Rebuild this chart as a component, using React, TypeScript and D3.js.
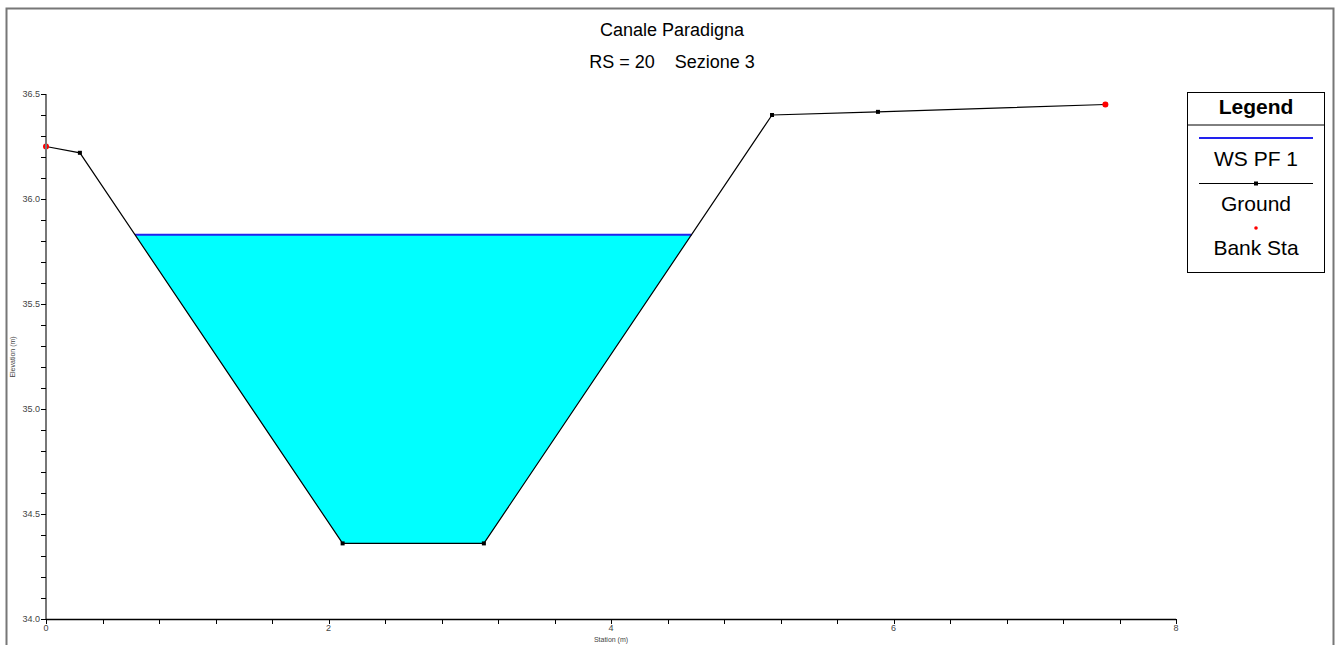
import * as d3 from 'd3';
import React from 'react';

// cross-section data (station m, elevation m)
const groundStation = [0, 0.24, 2.1, 3.1, 5.14, 5.89, 7.5];
const groundElev = [36.25, 36.22, 34.36, 34.36, 36.4, 36.415, 36.45];
const bankStation = [0, 7.5];
const bankElev = [36.25, 36.45];
const wsElev = 35.83;

const xTickLabels = [0, 2, 4, 6, 8];
const yTickLabels = [34.0, 34.5, 35.0, 35.5, 36.0, 36.5];
const legendItems = ['WS PF 1', 'Ground', 'Bank Sta'];

const W = 1341;
const H = 645;
const font = 'Arial, "Liberation Sans", sans-serif';

function App() {
    const x = d3.scaleLinear().domain([0, 8]).range([46, 1176]);
    const y = d3.scaleLinear().domain([34, 36.5]).range([619, 94]);

    const ground = groundStation.map((s, i) => [s, groundElev[i]]);

    // where the water surface meets the ground on each side
    const crossing = (a, b) => {
        const t = (wsElev - a[1]) / (b[1] - a[1]);
        return a[0] + t * (b[0] - a[0]);
    };
    const wsLeft = crossing(ground[1], ground[2]);
    const wsRight = crossing(ground[3], ground[4]);
    const water = [[wsLeft, wsElev], ground[2], ground[3], [wsRight, wsElev]];

    const line = d3.line().x(d => x(d[0])).y(d => y(d[1]));

    const xMinor = d3.range(0, 8.0001, 0.4);
    const yMinor = d3.range(34, 36.5001, 0.1);

    return (
        <svg width={W} height={H} style={{ position: 'absolute', left: 0, top: 0 }} fontFamily={font}>
            <rect x={0} y={0} width={W} height={H} fill="#fff" />
            {/* outer frame */}
            <path d={`M6.5,${H} V8.5 H1333.5 V${H}`} fill="none" stroke="#777" strokeWidth={2} />

            <text x={672} y={36} textAnchor="middle" fontSize={18}>Canale Paradigna</text>
            <text x={672} y={68} textAnchor="middle" fontSize={18} xmlSpace="preserve">RS = 20    Sezione 3</text>

            {/* water */}
            <path d={line(water) + 'Z'} fill="#00ffff" stroke="none" />
            <line x1={x(wsLeft)} x2={x(wsRight)} y1={y(wsElev)} y2={y(wsElev)} stroke="#2222ee" strokeWidth={2} />

            {/* ground */}
            <path d={line(ground)} fill="none" stroke="#000" strokeWidth={1.2} />
            {ground.map((d, i) => (
                <rect key={i} x={x(d[0]) - 2} y={y(d[1]) - 2} width={4} height={4} fill="#000" />
            ))}
            {bankStation.map((s, i) => (
                <circle key={i} cx={x(s)} cy={y(bankElev[i])} r={3} fill="#ff0000" />
            ))}

            {/* y axis */}
            <line x1={46} x2={46} y1={y(36.5)} y2={y(34)} stroke="#777" strokeWidth={2} />
            {yMinor.map((v, i) => (
                <line key={i} x1={41} x2={46} y1={Math.round(y(v)) + 0.5} y2={Math.round(y(v)) + 0.5} stroke="#000" />
            ))}
            {yTickLabels.map(v => (
                <text key={v} x={40} y={y(v) + 3} textAnchor="end" fontSize={9} fill="#444">{v.toFixed(1)}</text>
            ))}
            <text transform="translate(15,357) rotate(-90)" textAnchor="middle" fontSize={7} fill="#444">Elevation (m)</text>

            {/* x axis */}
            <line x1={x(0)} x2={x(8)} y1={619.5} y2={619.5} stroke="#000" strokeWidth={1.5} />
            {xMinor.map((v, i) => (
                <line key={i} x1={Math.round(x(v)) + 0.5} x2={Math.round(x(v)) + 0.5} y1={619} y2={624} stroke="#000" />
            ))}
            {xTickLabels.map(v => (
                <text key={v} x={x(v)} y={631} textAnchor="middle" fontSize={9} fill="#444">{v}</text>
            ))}
            <text x={611} y={642} textAnchor="middle" fontSize={7} fill="#444">Station (m)</text>

            {/* legend */}
            <rect x={1187.5} y={92.5} width={137} height={180} fill="#fff" stroke="#000" />
            <line x1={1187} x2={1325} y1={125} y2={125} stroke="#000" strokeWidth={1} />
            <text x={1256} y={114} textAnchor="middle" fontSize={21} fontWeight="bold">Legend</text>
            <line x1={1199} x2={1313} y1={138} y2={138} stroke="#2222ee" strokeWidth={2} />
            <text x={1256} y={166} textAnchor="middle" fontSize={21}>{legendItems[0]}</text>
            <line x1={1199} x2={1313} y1={183.5} y2={183.5} stroke="#000" />
            <rect x={1254} y={181.5} width={4} height={4} fill="#000" />
            <text x={1256} y={211} textAnchor="middle" fontSize={21}>{legendItems[1]}</text>
            <circle cx={1256} cy={228} r={1.8} fill="#ff0000" />
            <text x={1256} y={255} textAnchor="middle" fontSize={21}>{legendItems[2]}</text>
        </svg>
    );
}

export default App;
